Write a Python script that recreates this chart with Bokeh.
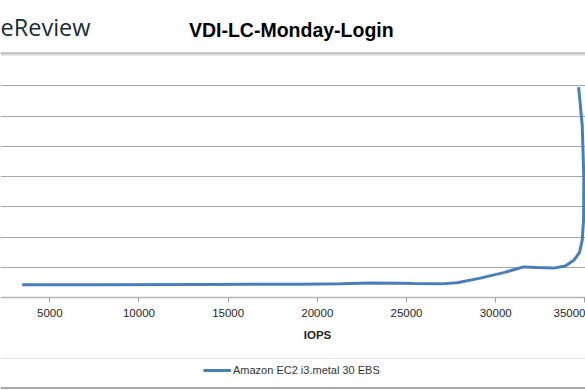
from bokeh.plotting import figure
from bokeh.layouts import column
from bokeh.models import Range1d, FixedTicker, Grid, Label, Legend, LegendItem, BoxAnnotation
from bokeh.embed import file_html
from bokeh.resources import INLINE

# ---- data ----
iops = [3450, 7840, 13450, 19050, 21290, 22980, 24660, 25390, 26900, 27840,
        29140, 30450, 31200, 31570, 32320, 33250, 33900, 34400, 34700, 34850,
        34930, 34940, 34850, 34650]
latency = [0.43, 0.43, 0.44, 0.45, 0.46, 0.49, 0.48, 0.47, 0.46, 0.50,
           0.65, 0.83, 0.96, 1.02, 1.00, 0.98, 1.05, 1.25, 1.50, 1.90,
           2.60, 4.00, 5.70, 6.95]
x_ticks = [5000, 10000, 15000, 20000, 25000, 30000, 35000]
y_grid = [1, 2, 3, 4, 5, 6, 7]
series_name = "Amazon EC2 i3.metal 30 EBS"
title_text = "VDI-LC-Monday-Login"
x_label = "IOPS"
logo_text = "eReview"


def rule(h, color):
    f = figure(width=585, height=h, output_backend="svg", toolbar_location=None,
               x_axis_location=None, y_axis_location=None, title=None,
               min_border=0, x_range=Range1d(0, 1), y_range=Range1d(0, 1))
    f.background_fill_color = color
    f.border_fill_color = color
    f.outline_line_color = None
    f.xgrid.visible = False
    f.ygrid.visible = False
    return f


H = 389
p = figure(width=585, height=H, output_backend="svg", toolbar_location=None,
           x_range=Range1d(2237, 35035), y_range=Range1d(-3.059, 9.779),
           y_axis_location=None, title=None, min_border=0)
p.outline_line_color = None
p.background_fill_color = "white"
p.border_fill_color = "white"
p.xgrid.visible = False

grid = Grid(dimension=1, ticker=FixedTicker(ticks=y_grid),
            grid_line_color="#a6a6a6", grid_line_width=1.2)
p.add_layout(grid)

ax = p.xaxis[0]
ax.fixed_location = 0
ax.ticker = FixedTicker(ticks=x_ticks)
ax.axis_line_color = "#b4b4b4"
ax.axis_line_width = 1.5
ax.major_tick_line_color = "#a0a0a0"
ax.major_tick_out = 5
ax.major_tick_in = 0
ax.minor_tick_line_color = None
ax.major_label_text_font = "Liberation Sans"
ax.major_label_text_font_size = "11.5px"
ax.major_label_text_color = "#1e1e1e"
ax.major_label_standoff = 6

r = p.line(iops, latency, line_color="#4a7ebb", line_width=3)

legend = Legend(items=[LegendItem(label=series_name, renderers=[r])],
                location=(203, 13.5), orientation="horizontal",
                border_line_color=None, background_fill_alpha=0,
                padding=0, margin=0, spacing=0,
                glyph_width=28, glyph_height=14, label_standoff=2,
                label_height=14,
                label_text_font="Liberation Sans", label_text_font_size="11px",
                label_text_color="#333333")
p.add_layout(legend)

p.add_layout(Label(x=317, y=56, x_units="screen", y_units="screen",
                   text=x_label, text_align="center", text_baseline="middle",
                   text_font="Liberation Sans", text_font_style="bold",
                   text_font_size="11.5px", text_color="#1e1e1e"))

p.add_layout(Label(x=290.8, y=361, x_units="screen", y_units="screen",
                   text=title_text, text_align="center", text_baseline="alphabetic",
                   text_font="Liberation Sans", text_font_style="bold",
                   text_font_size="19.5px", text_color="#000000"))

p.add_layout(Label(x=0, y=363.3, x_units="screen", y_units="screen",
                   text=logo_text, text_align="left", text_baseline="alphabetic",
                   text_font="Open Sans", text_font_size="23.5px",
                   text_color="#182c38"))

# separator under the header and bottom border
p.add_layout(BoxAnnotation(left=0, right=585, top=338.3, bottom=336,
                           left_units="screen", right_units="screen",
                           top_units="screen", bottom_units="screen",
                           fill_color="#bcbcbc", fill_alpha=1,
                           line_color=None))
p.add_layout(BoxAnnotation(left=0, right=585, top=3.5, bottom=1.5,
                           left_units="screen", right_units="screen",
                           top_units="screen", bottom_units="screen",
                           fill_color="#a8a8a8", fill_alpha=1,
                           line_color=None))

layout = column(rule(1, "#c4c4c4"), p, spacing=0)

open("out.html", "w").write(file_html(layout, INLINE))
